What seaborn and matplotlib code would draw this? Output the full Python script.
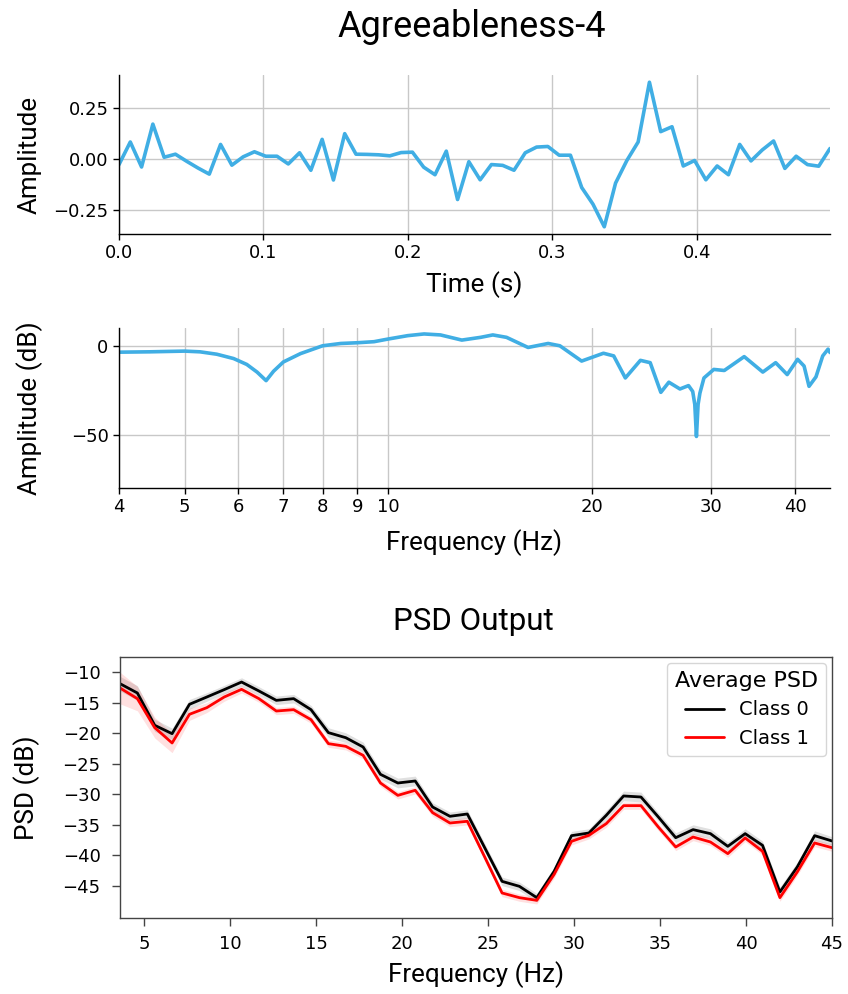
import numpy as np
import pandas as pd
import matplotlib
matplotlib.use("Agg")
import matplotlib.pyplot as plt
import seaborn as sns

# ---------------- data ----------------
sample_rate = 128
amplitude = [-0.028, 0.083, -0.040, 0.171, 0.008, 0.023, -0.012, -0.045, -0.075, 0.071,
             -0.031, 0.010, 0.035, 0.013, 0.013, -0.025, 0.030, -0.056, 0.096, -0.104,
             0.124, 0.023, 0.022, 0.020, 0.015, 0.031, 0.033, -0.041, -0.078, 0.038,
             -0.200, -0.014, -0.103, -0.028, -0.032, -0.056, 0.030, 0.058, 0.061, 0.018,
             0.018, -0.141, -0.223, -0.334, -0.119, -0.008, 0.083, 0.377, 0.134, 0.158,
             -0.035, -0.008, -0.103, -0.035, -0.078, 0.071, -0.010, 0.044, 0.088, -0.047,
             0.013, -0.028, -0.036, 0.051]
time_s = np.arange(len(amplitude)) / sample_rate

filt_freq = [4.0, 4.44, 5.0, 5.27, 5.58, 5.91, 6.18, 6.40, 6.60, 6.77, 7.0, 7.42, 8.0,
             8.51, 9.0, 9.53, 10.0, 10.69, 11.3, 11.95, 12.85, 13.7, 14.28, 14.96, 16.1,
             17.24, 17.94, 19.32, 20.81, 21.55, 22.42, 23.6, 24.4, 25.3, 26.0, 27.0,
             27.8, 28.2, 28.4, 28.56, 28.72, 28.9, 29.3, 30.3, 31.4, 33.6, 35.8, 37.4,
             38.9, 40.3, 41.2, 41.9, 42.9, 43.9, 44.7, 45.0]
filt_db = [-3.6, -3.4, -3.0, -3.4, -4.75, -7.2, -10.5, -14.8, -19.6, -14.3, -9.1, -4.4, 0.0,
           1.3, 1.7, 2.3, 3.8, 5.7, 6.65, 6.1, 3.2, 4.75, 6.1, 4.75, -0.95,
           1.3, 0.0, -8.6, -4.2, -5.7, -18.1, -8.2, -9.5, -26.2, -20.5, -24.3,
           -22.4, -25.7, -33.0, -51.0, -33.0, -26.6, -18.1, -13.3, -13.9, -6.1, -14.8, -9.5,
           -16.2, -7.6, -11.4, -22.8, -17.5, -5.7, -1.9, -3.8]

psd_freq = [3.59, 4.60, 5.61, 6.62, 7.63, 8.64, 9.65, 10.66, 11.67, 12.68, 13.69, 14.70,
            15.71, 16.72, 17.73, 18.74, 19.75, 20.76, 21.77, 22.78, 23.79, 24.80, 25.81,
            26.82, 27.83, 28.84, 29.85, 30.86, 31.87, 32.88, 33.89, 34.90, 35.91, 36.92,
            37.93, 38.94, 39.95, 40.96, 41.97, 42.98, 43.99, 45.00]
class0_psd = [-11.85, -13.38, -18.69, -20.06, -15.24, -14.04, -12.83, -11.58, -13.05, -14.59,
              -14.31, -16.12, -19.89, -20.72, -22.25, -26.74, -28.16, -27.83, -32.10, -33.63,
              -33.25, -38.78, -44.31, -45.13, -46.99, -42.66, -36.81, -36.37, -33.47, -30.29,
              -30.46, -33.74, -37.14, -35.82, -36.48, -38.56, -36.48, -38.40, -46.06, -41.95,
              -36.81, -37.68]
class1_psd = [-12.56, -14.31, -19.07, -21.59, -16.88, -15.79, -14.04, -12.78, -14.31, -16.34,
              -16.12, -17.76, -21.70, -22.14, -23.62, -28.16, -30.19, -29.36, -33.03, -34.73,
              -34.45, -40.31, -46.22, -46.99, -47.43, -43.16, -37.74, -36.75, -34.84, -31.88,
              -31.88, -35.39, -38.67, -37.03, -37.85, -39.76, -37.19, -39.38, -46.99, -42.77,
              -38.01, -38.78]
class0_ci = [1.2, 1.2, 1.0, 0.9, 0.8, 0.7, 0.7, 0.7, 0.7, 0.7, 0.7, 0.7, 0.8, 0.8, 0.8, 0.8,
             0.8, 0.8, 0.7, 0.7, 0.7, 0.7, 0.7, 0.7, 0.7, 0.7, 0.7, 0.7, 0.8, 0.8, 0.8, 0.7,
             0.8, 0.8, 0.8, 0.7, 0.8, 0.7, 0.8, 0.8, 0.8, 0.7]
class1_ci = [2.6, 2.0, 1.7, 1.6, 1.0, 0.8, 0.7, 0.6, 0.6, 0.6, 0.6, 0.6, 0.6, 0.6, 0.6, 0.6,
             0.6, 0.6, 0.6, 0.6, 0.6, 0.6, 0.6, 0.6, 0.6, 0.6, 0.6, 0.6, 0.6, 0.6, 0.6, 0.6,
             0.6, 0.6, 0.6, 0.6, 0.6, 0.6, 0.6, 0.6, 0.6, 0.6]
class_labels = ["Class 0", "Class 1"]
class_colors = ["black", "red"]

filt_ticks = [4, 5, 6, 7, 8, 9, 10, 20, 30, 40]
psd_xticks = [5, 10, 15, 20, 25, 30, 35, 40, 45]
psd_yticks = [-10, -15, -20, -25, -30, -35, -40, -45]

# ---------------- styling ----------------
sns.set_style("white")
plt.rcParams["font.family"] = ["DejaVu Sans"]
plt.rcParams.update({"text.color": "black", "axes.labelcolor": "black",
                     "xtick.color": "black", "ytick.color": "black",
                     "xtick.labelcolor": "black", "ytick.labelcolor": "black"})
LABEL_FONT = "Roboto"
LABEL_FS = 18.7
BLUE = "#40aee4"
GRID = "#c8c8c8"
TICK_FS = 13

W, H = 848, 994
fig = plt.figure(figsize=(W / 100, H / 100), dpi=100)


def rect(l, t, r, b):
    return [l / W, 1 - b / H, (r - l) / W, (b - t) / H]


def place_labels(ax, box, xlabel, ylabel, x_y_px, y_x_px):
    l, t, r, b = box
    ax.set_xlabel(xlabel, family=LABEL_FONT, fontsize=LABEL_FS, color="black")
    ax.set_ylabel(ylabel, family=LABEL_FONT, fontsize=LABEL_FS, color="black")
    ax.xaxis.label.set_va("center")
    ax.yaxis.label.set_va("center")
    ax.yaxis.label.set_ha("center")
    ax.xaxis.set_label_coords(0.5, (b - x_y_px) / (b - t))
    ax.yaxis.set_label_coords((y_x_px - l) / (r - l), 0.5)


fig.text(472 / W, 1 - 27 / H, "Agreeableness-4", family=LABEL_FONT, fontsize=26,
         ha="center", va="center", color="black")

# ---- top: time series ----
box1 = (119, 75, 830, 234)
ax1 = fig.add_axes(rect(*box1))
df_t = pd.DataFrame({"time": time_s, "amp": amplitude})
sns.lineplot(data=df_t, x="time", y="amp", ax=ax1, color=BLUE, linewidth=2.6)
ax1.set_xlim(time_s[0], time_s[-1])
ax1.set_xticks([0.0, 0.1, 0.2, 0.3, 0.4])
ax1.set_yticks([-0.25, 0.0, 0.25])
ax1.grid(True, color=GRID, linewidth=1.0)
ax1.set_axisbelow(True)
place_labels(ax1, box1, "Time (s)", "Amplitude", 285, 30)

# ---- middle: filter response ----
box2 = (119, 328, 830, 488)
ax2 = fig.add_axes(rect(*box2))
df_f = pd.DataFrame({"freq": filt_freq, "db": filt_db})
sns.lineplot(data=df_f, x="freq", y="db", ax=ax2, color=BLUE, linewidth=2.6, sort=False)
ax2.set_xscale("log")
ax2.set_xlim(4, 45)
ax2.set_ylim(-80, 10)
ax2.xaxis.set_minor_locator(matplotlib.ticker.FixedLocator([10]))
ax2.xaxis.set_minor_formatter(matplotlib.ticker.FixedFormatter(["10"]))
ax2.set_xticks(filt_ticks)
ax2.set_xticklabels([str(t) for t in filt_ticks])
ax2.set_yticks([-50, 0])
ax2.grid(True, which="both", color=GRID, linewidth=1.0)
ax2.set_axisbelow(True)
place_labels(ax2, box2, "Frequency (Hz)", "Amplitude (dB)", 543, 30)

for ax in (ax1, ax2):
    for s in ("top", "right"):
        ax.spines[s].set_visible(False)
    for s in ("left", "bottom"):
        ax.spines[s].set_color("black")
        ax.spines[s].set_linewidth(1.0)
    ax.tick_params(axis="both", which="both", direction="out", length=4, width=1,
                   color="black", labelcolor="black", labelsize=TICK_FS,
                   bottom=True, left=True)

# ---- bottom: PSD ----
box3 = (120, 657, 832, 918)
ax3 = fig.add_axes(rect(*box3))
for lab, col, vals, ci in zip(class_labels, class_colors,
                              [class0_psd, class1_psd], [class0_ci, class1_ci]):
    df_p = pd.DataFrame({"freq": psd_freq, "psd": vals})
    sns.lineplot(data=df_p, x="freq", y="psd", ax=ax3, color=col, linewidth=2.0, label=lab)
    lo = np.array(vals) - np.array(ci)
    hi = np.array(vals) + np.array(ci)
    ax3.fill_between(psd_freq, lo, hi, color=col, alpha=0.12, linewidth=0)
ax3.set_xlim(psd_freq[0], psd_freq[-1])
ax3.set_ylim(-50.33, -7.47)
ax3.set_xticks(psd_xticks)
ax3.set_yticks(psd_yticks)
for s in ax3.spines.values():
    s.set_visible(True)
    s.set_color("#444444")
    s.set_linewidth(1.0)
ax3.tick_params(axis="both", direction="out", length=6, width=1, color="#444444",
                labelcolor="black", labelsize=TICK_FS, bottom=True, left=True)
ax3.tick_params(axis="x", pad=6)
ax3.tick_params(axis="y", pad=8)
fig.text(473 / W, 1 - 622 / H, "PSD Output", family=LABEL_FONT, fontsize=22.5,
         ha="center", va="center", color="black")
place_labels(ax3, box3, "Frequency (Hz)", "PSD (dB)", 975, 27)
leg = ax3.legend(title="Average PSD", loc="upper right", fontsize=14, title_fontsize=16,
                 frameon=True, borderaxespad=0.3)
leg.get_frame().set_edgecolor("#cccccc")
for t in leg.get_texts():
    t.set_color("black")
leg.get_title().set_color("black")

fig.savefig("out.png", dpi=100)
